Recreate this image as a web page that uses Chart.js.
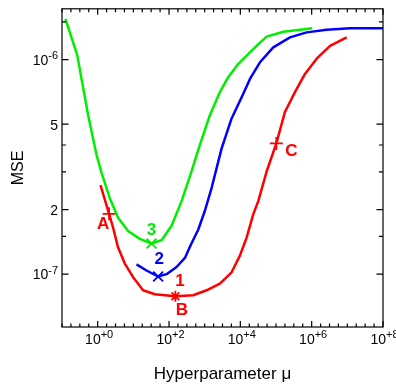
<!DOCTYPE html>
<html>
<head>
<meta charset="utf-8">
<script src="https://cdn.jsdelivr.net/npm/chart.js@4.4.1/dist/chart.umd.min.js"></script>
<style>
  html, body { margin: 0; padding: 0; background: #fff; }
</style>
</head>
<body>
<canvas id="mseChart" width="396" height="389"></canvas>
<script>
// --- data ---
const redMu  = [1.20, 2.09, 2.70, 3.74, 5.77, 9.86, 18.8, 40.1, 76.4, 151, 476, 1130, 2670, 5690, 9730, 15000, 23000, 31800, 54600, 102000, 178000, 340000, 649000, 1380000, 3270000, 9620000];
const redMse = [2.60e-7, 1.91e-7, 1.65e-7, 1.33e-7, 1.12e-7, 9.68e-8, 8.41e-8, 8.06e-8, 7.97e-8, 7.89e-8, 7.97e-8, 8.41e-8, 9.03e-8, 1.02e-7, 1.22e-7, 1.48e-7, 1.90e-7, 2.19e-7, 3.01e-7, 4.07e-7, 5.70e-7, 7.06e-7, 8.58e-7, 1.01e-6, 1.16e-6, 1.27e-6];

const blueMu  = [12.3, 23.4, 49.5, 85.3, 163, 279, 410, 658, 1010, 1560, 2990, 5690, 12100, 18600, 35500, 83800, 247000, 724000, 2640000, 11900000, 100000000];
const blueMse = [1.11e-7, 1.04e-7, 9.75e-8, 1.00e-7, 1.08e-7, 1.19e-7, 1.37e-7, 1.61e-7, 1.97e-7, 2.52e-7, 3.86e-7, 5.32e-7, 6.93e-7, 8.13e-7, 9.72e-7, 1.14e-6, 1.27e-6, 1.34e-6, 1.38e-6, 1.40e-6, 1.40e-6];

const greenMu  = [0.125, 0.267, 0.538, 0.925, 1.30, 2.19, 3.74, 7.13, 15.2, 32.4, 61.8, 118, 225, 430, 735, 1400, 2670, 4570, 8710, 16600, 35500, 54600, 160000, 470000, 1040000];
const greenMse = [1.55e-6, 1.05e-6, 5.53e-7, 3.61e-7, 2.95e-7, 2.26e-7, 1.83e-7, 1.59e-7, 1.46e-7, 1.39e-7, 1.44e-7, 1.68e-7, 2.19e-7, 3.02e-7, 4.01e-7, 5.51e-7, 7.06e-7, 8.28e-7, 9.54e-7, 1.06e-6, 1.20e-6, 1.28e-6, 1.35e-6, 1.38e-6, 1.40e-6];

// marked points: A, B(1), C on red, 2 on blue, 3 on green
const markerNames = ['A', 'B', 'C', '2', '3'];
const markerMu    = [2.09, 151, 102000, 49.5, 32.4];
const markerMse   = [1.91e-7, 7.89e-8, 4.07e-7, 9.75e-8, 1.39e-7];

// tick labels: [base, exponent]
const xTickValues = [1, 1e2, 1e4, 1e6, 1e8];
const xTickLabels = [['10', '+0'], ['10', '+2'], ['10', '+4'], ['10', '+6'], ['10', '+8']];
const yTickValues = [1e-7, 2e-7, 5e-7, 1e-6];
const yTickLabels = [['10', '-7'], ['2', ''], ['5', ''], ['10', '-6']];
const yMinorTicks = [1.5e-7, 3e-7, 4e-7, 1.5e-6];

// --- styles ---
const RED = '#ff0000', BLUE = '#0000ff', GREEN = '#00ee00';
const FONT = '"Liberation Sans", Arial, Helvetica, sans-serif';
Chart.defaults.font.family = FONT;
Chart.defaults.color = '#000';

const pts = (xs, ys) => xs.map((x, i) => ({ x: x, y: ys[i] }));

function curve(xs, ys, color) {
    return { data: pts(xs, ys), showLine: true, borderColor: color, borderWidth: 2.5,
             borderJoinStyle: 'round', pointRadius: 0, tension: 0, fill: false };
}
function marker(i, color, style, r) {
    return { data: [{ x: markerMu[i], y: markerMse[i] }], showLine: false, pointStyle: style,
             pointRadius: r, borderColor: color, backgroundColor: color, borderWidth: 1.8 };
}

// "10" + exposant plus petit et surelevé
function supLabel(ctx, lab, x, y, align) {
    ctx.font = '14px ' + FONT;
    const wb = ctx.measureText(lab[0]).width;
    ctx.font = '11px ' + FONT;
    const we = lab[1] ? ctx.measureText(lab[1]).width : 0;
    const w = wb + we;
    let x0 = align === 'right' ? x - w : x - w / 2;
    ctx.textAlign = 'left';
    ctx.textBaseline = 'alphabetic';
    ctx.font = '14px ' + FONT;
    ctx.fillText(lab[0], x0, y);
    if (lab[1]) {
        ctx.font = '11px ' + FONT;
        ctx.fillText(lab[1], x0 + wb, y - 5.5);
    }
}

// boite + graduations vers l'interieur sur les 4 cotes, etiquettes des axes et des points
const framePlugin = {
    id: 'frame',
    afterDatasetsDraw(chart) {
        const { ctx, chartArea: a, scales: { x, y } } = chart;
        ctx.save();
        ctx.strokeStyle = '#000';
        ctx.lineWidth = 1.2;
        ctx.strokeRect(a.left, a.top, a.right - a.left, a.bottom - a.top);
        ctx.beginPath();
        for (let k = -4; k <= 32; k++) {
            const px = x.getPixelForValue(Math.pow(10, k / 4));
            const len = (k % 8 === 0) ? 6 : 3.5;
            ctx.moveTo(px, a.bottom); ctx.lineTo(px, a.bottom - len);
            ctx.moveTo(px, a.top);    ctx.lineTo(px, a.top + len);
        }
        yTickValues.concat(yMinorTicks).forEach((v, i) => {
            const py = y.getPixelForValue(v);
            const len = i < yTickValues.length ? 6.5 : 4;
            ctx.moveTo(a.left, py);  ctx.lineTo(a.left + len, py);
            ctx.moveTo(a.right, py); ctx.lineTo(a.right - len, py);
        });
        ctx.stroke();

        ctx.fillStyle = '#000';
        xTickValues.forEach((v, i) => {
            supLabel(ctx, xTickLabels[i], x.getPixelForValue(v) + 1.5, a.bottom + 16.5, 'center');
        });
        yTickValues.forEach((v, i) => {
            supLabel(ctx, yTickLabels[i], a.left - 4, y.getPixelForValue(v) + 5.3, 'right');
        });

        // etiquettes des points
        const offs = { A: [-6, 10, RED], B: [6.5, 14, RED], C: [15, 8, RED], '2': [1, -17.5, BLUE], '3': [0, -13, GREEN] };
        ctx.font = 'bold 17px ' + FONT;
        ctx.textAlign = 'center';
        ctx.textBaseline = 'middle';
        markerNames.forEach((n, i) => {
            const px = x.getPixelForValue(markerMu[i]);
            const py = y.getPixelForValue(markerMse[i]);
            const o = offs[n];
            ctx.fillStyle = o[2];
            ctx.fillText(n, px + o[0], py + o[1]);
            if (n === 'B') ctx.fillText('1', px + 4.5, py - 15);
        });
        ctx.restore();
    }
};

new Chart(document.getElementById('mseChart').getContext('2d'), {
    type: 'scatter',
    data: {
        datasets: [
            curve(greenMu, greenMse, GREEN),
            curve(blueMu, blueMse, BLUE),
            curve(redMu, redMse, RED),
            marker(0, RED, 'cross', 6.5),
            marker(1, RED, 'star', 5.5),
            marker(2, RED, 'cross', 6.5),
            marker(3, BLUE, 'crossRot', 7),
            marker(4, GREEN, 'crossRot', 7)
        ]
    },
    options: {
        responsive: false,
        animation: false,
        devicePixelRatio: 1,
        layout: { padding: { left: 0, right: 13, top: 6, bottom: 0 } },
        plugins: { legend: { display: false }, tooltip: { enabled: false } },
        scales: {
            x: {
                type: 'logarithmic', min: 0.1, max: 1e8,
                grid: { display: false }, border: { display: false },
                afterBuildTicks: s => { s.ticks = xTickValues.map(v => ({ value: v })); },
                afterFit: s => { s.height = 62; s.paddingLeft = 0; s.paddingRight = 0; },
                ticks: { display: false },
                title: { display: true, text: 'Hyperparameter \u03BC', font: { size: 17 }, padding: { top: 0, bottom: 4 } }
            },
            y: {
                type: 'logarithmic', min: 5.67e-8, max: 1.726e-6,
                grid: { display: false }, border: { display: false },
                afterBuildTicks: s => { s.ticks = yTickValues.map(v => ({ value: v })); },
                afterFit: s => { s.width = 62; s.paddingTop = 0; s.paddingBottom = 0; },
                ticks: { display: false },
                title: { display: true, text: 'MSE', font: { size: 16 }, padding: { top: 9, bottom: 0 } }
            }
        }
    },
    plugins: [framePlugin]
});
</script>
</body>
</html>
